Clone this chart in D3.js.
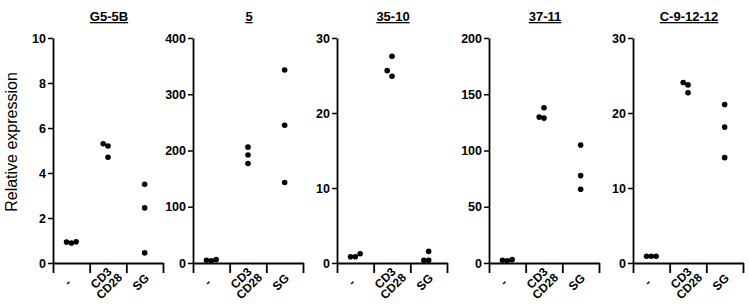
<!DOCTYPE html>
<html>
<head>
<meta charset="utf-8">
<script src="https://cdnjs.cloudflare.com/ajax/libs/d3/7.8.5/d3.min.js"></script>
<style>
body { margin: 0; background: #fff; }
text { font-family: "Liberation Sans", Arial, sans-serif; fill: #000; }
</style>
</head>
<body>
<div id="chart"></div>
<script>
// values, one entry per panel
var titles = ['G5-5B', '5', '35-10', '37-11', 'C-9-12-12']
var groups = ['-', 'CD3|CD28', 'SG']
var yMax = [10, 400, 30, 200, 30]
var yTicks = [
    [0, 2, 4, 6, 8, 10],
    [0, 100, 200, 300, 400],
    [0, 10, 20, 30],
    [0, 50, 100, 150, 200],
    [0, 10, 20, 30]
]
var noneValues = [[0.93, 0.89, 0.94], [4, 6, 5], [0.84, 0.84, 1.24], [2.5, 3, 2], [0.9, 0.9, 0.9]]
var cd3Values = [[5.3, 5.2, 4.7], [206, 192, 177], [25.65, 27.56, 24.9], [129.7, 138, 128.8], [23.75, 24.06, 22.7]]
var sgValues = [[3.5, 2.45, 0.45], [343, 245, 143], [0.35, 0.35, 1.55], [104.9, 77.7, 65.6], [21.13, 18.12, 14.05]]

var width = 749
var height = 306
var panelLeft = [53, 193, 337, 489, 633]
var plotW = 110
var plotTop = 38
var plotBottom = 263
var dotR = 2.8

var svg = d3.select('#chart').append('svg')
    .attr('width', width)
    .attr('height', height)

// spread points of one group sideways when they would overlap (like a column scatter)
var swarm = function(values, y) {
    var sorted = values.slice().sort(function(a, b) { return a - b })
    var placed = []
    var steps = [0, -1, 1, -2, 2]
    sorted.forEach(function(v) {
        var py = y(v)
        for (var i = 0; i < steps.length; i++) {
            var px = steps[i] * 4.8
            var hit = placed.some(function(p) {
                return Math.abs(p.y - py) < 7.5 && Math.abs(p.x - px) < 4.5
            })
            if (!hit) {
                placed.push({x: px, y: py, v: v})
                break
            }
        }
    })
    return placed
}

svg.append('text')
    .attr('transform', 'translate(17,142) rotate(-90)')
    .attr('text-anchor', 'middle')
    .style('font-size', '16px')
    .text('Relative expression')

titles.forEach(function(title, p) {
    var left = panelLeft[p]
    var g = svg.append('g').attr('transform', 'translate(' + left + ',0)')

    var y = d3.scaleLinear().domain([0, yMax[p]]).range([plotBottom, plotTop])
    var x = d3.scaleBand().domain(groups).range([0, plotW]).padding(0)
    var xEdge = d3.scaleLinear().domain([0, 3]).range([0, plotW])

    var yAxis = g.append('g')
        .call(d3.axisLeft(y).tickValues(yTicks[p]).tickSize(5).tickPadding(2).tickSizeOuter(0))
    yAxis.select('.domain').attr('stroke-width', 1.8)
    yAxis.selectAll('.tick line').attr('stroke-width', 1.5)
    yAxis.selectAll('text')
        .style('font-size', '12.5px')
        .style('font-weight', 'bold')
        .style('font-family', '"Liberation Sans", Arial, sans-serif')

    var xAxis = g.append('g')
        .attr('transform', 'translate(0,' + plotBottom + ')')
        .call(d3.axisBottom(xEdge).tickValues([0, 1, 2, 3]).tickSize(10).tickFormat('').tickSizeOuter(0))
    xAxis.select('.domain').attr('stroke-width', 1.8)
    xAxis.selectAll('.tick line').attr('stroke-width', 1.8)

    groups.forEach(function(name) {
        var lines = name.split('|')
        var multi = lines.length > 1
        var lx = x(name) + x.bandwidth() / 2 + (multi ? -4 : -1)
        var ly = multi ? 281 : 285
        var t = g.append('text')
            .attr('transform', 'translate(' + lx + ',' + ly + ') rotate(-45)')
            .attr('text-anchor', 'middle')
            .style('font-size', '12px')
            .style('font-weight', 'bold')
        lines.forEach(function(line, i) {
            t.append('tspan')
                .attr('x', 0)
                .attr('dy', i == 0 ? 0 : '0.95em')
                .text(line)
        })
    })

    var series = [noneValues[p], cd3Values[p], sgValues[p]]
    series.forEach(function(values, gi) {
        var cx = x(groups[gi]) + x.bandwidth() / 2
        g.selectAll('.dot' + gi)
            .data(swarm(values, y))
            .enter().append('circle')
            .attr('class', 'dot' + gi)
            .attr('cx', function(d) { return cx + d.x })
            .attr('cy', function(d) { return d.y })
            .attr('r', dotR)
            .attr('fill', '#000')
    })

    g.append('text')
        .attr('x', plotW / 2 + 1)
        .attr('y', 21)
        .attr('text-anchor', 'middle')
        .style('font-size', '13px')
        .style('font-weight', 'bold')
        .style('text-decoration', 'underline')
        .text(title)
})
</script>
</body>
</html>
